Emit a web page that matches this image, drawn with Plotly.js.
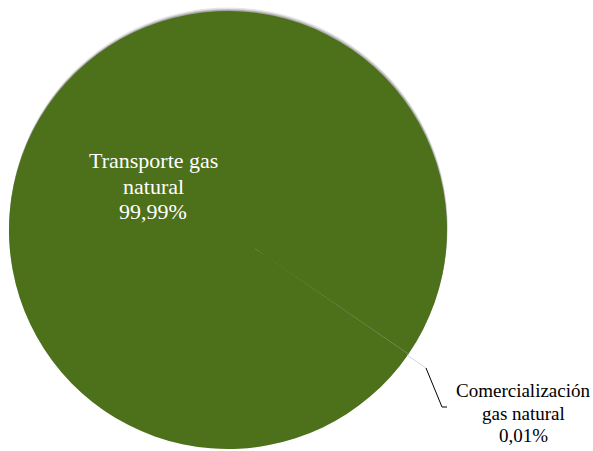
<!DOCTYPE html>
<html>
<head>
<meta charset="utf-8">
<script src="https://cdn.plot.ly/plotly-3.0.1.min.js"></script>
<style>html,body{margin:0;padding:0;background:#fff;}#chart{width:593px;height:451px;}</style>
</head>
<body>
<div id="chart"></div>
<script>
var categories = ["Comercialización gas natural", "Transporte gas natural"];
var displayLabels = [["Comercialización", "gas natural"], ["Transporte gas", "natural"]];
var shares = [0.01, 99.99];
var sliceColors = ["#a8c8e0", "#4d701b"];

var W = 593, H = 451;
function px(x) { return x / W; }
function py(y) { return 1 - y / H; }

var pieX = [9, 447], pieY = [11, 449];
var serif = '"Liberation Serif", "Times New Roman", serif';

function shadowPie(dx, dy, col) {
  return {
    type: "pie", values: [1], labels: ["s"], sort: false,
    marker: {colors: [col], line: {width: 0}},
    textinfo: "none", hoverinfo: "skip", showlegend: false,
    domain: {x: [px(pieX[0] + dx), px(pieX[1] + dx)], y: [py(pieY[1] + dy), py(pieY[0] + dy)]}
  };
}

var main = {
  type: "pie",
  labels: categories,
  values: shares,
  sort: false,
  direction: "clockwise",
  rotation: 124.5,
  textinfo: "none",
  marker: {colors: sliceColors, line: {width: [1, 0], color: ["#b8d4ea", "#4d701b"]}},
  automargin: false,
  hoverinfo: "label+percent",
  domain: {x: [px(pieX[0]), px(pieX[1])], y: [py(pieY[1]), py(pieY[0])]},
  showlegend: false
};

var total = shares.reduce(function (a, b) { return a + b; }, 0);
function pct(v) { return (v / total * 100).toFixed(2).replace(".", ",") + "%"; }

// one annotation per line to reproduce the tighter line spacing of the original
function labelBlock(lines, cx, firstBaseline, spacing, size, color) {
  return lines.map(function (t, i) {
    return {
      text: t, x: px(cx), y: py(firstBaseline + i * spacing - 0.33 * size),
      xref: "paper", yref: "paper", xanchor: "center", yanchor: "middle",
      showarrow: false, font: {family: serif, size: size, color: color}
    };
  });
}

var annotations = []
  .concat(labelBlock(displayLabels[1].concat([pct(shares[1])]), 153, 168, 25.5, 22, "#ffffff"))
  .concat(labelBlock(displayLabels[0].concat([pct(shares[0])]), 523, 397, 22.5, 19, "#000000"));

var shapes = [
  {type: "line", xref: "paper", yref: "paper", x0: px(407), y0: py(355), x1: px(426), y1: py(368),
   line: {color: "#c9dcea", width: 1}},
  {type: "path", xref: "paper", yref: "paper",
   path: "M " + px(426) + "," + py(368) + " L " + px(442) + "," + py(407) + " L " + px(447) + "," + py(407),
   line: {color: "#000000", width: 1}}
];

var layout = {
  width: W, height: H,
  margin: {l: 0, r: 0, t: 0, b: 0},
  paper_bgcolor: "#ffffff",
  showlegend: false,
  annotations: annotations,
  shapes: shapes
};

Plotly.newPlot("chart", [
  shadowPie(0.5, -3.5, "rgba(0,0,0,0.10)"),
  shadowPie(0.5, -2, "rgba(0,0,0,0.16)"),
  shadowPie(0, -1, "rgba(0,0,0,0.15)"),
  main
], layout, {displayModeBar: false, staticPlot: true});
</script>
</body>
</html>
